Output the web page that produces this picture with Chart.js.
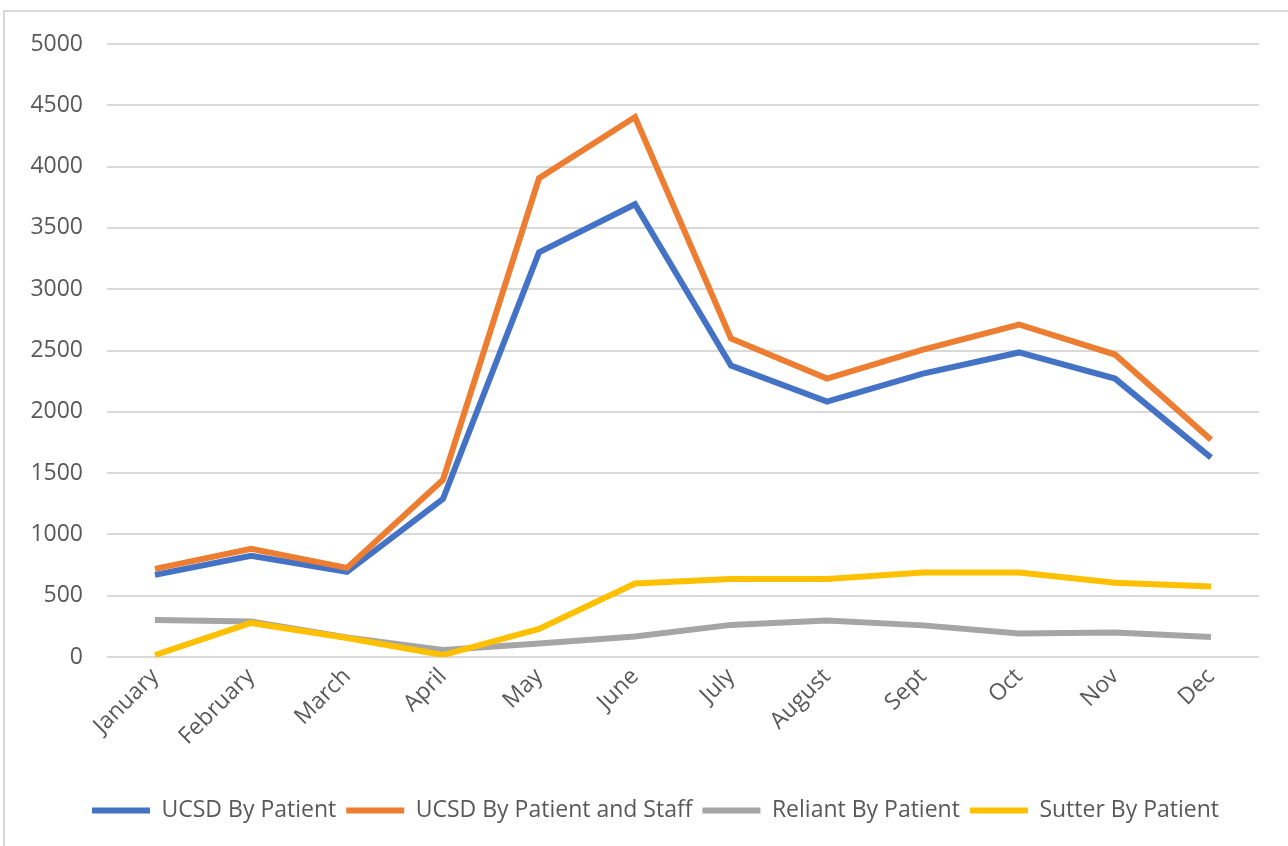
<!DOCTYPE html>
<html>
<head>
<meta charset="utf-8">
<script src="https://cdn.jsdelivr.net/npm/chart.js@4/dist/chart.umd.min.js"></script>
<style>
    html, body { margin: 0; padding: 0; background: #fff; }
    #frame { position: absolute; left: 3px; top: 10px; width: 1300px; height: 900px; border: 2px solid #d9d9d9; box-sizing: border-box; }
    #wrap { position: absolute; left: 0; top: 0; width: 1288px; height: 846px; }
</style>
</head>
<body>
<div id="frame"></div>
<div id="wrap"><canvas id="myLineChart"></canvas></div>
<script>
// months on the x axis
const months = ['January', 'February', 'March', 'April', 'May', 'June', 'July', 'August', 'Sept', 'Oct', 'Nov', 'Dec'];

// values
const ucsdPatient = [670, 825, 695, 1290, 3300, 3693, 2378, 2083, 2312, 2484, 2271, 1626];
const ucsdPatientStaff = [719, 882, 727, 1446, 3905, 4404, 2598, 2271, 2508, 2712, 2467, 1773];
const reliantPatient = [302, 290, 160, 57, 110, 168, 262, 298, 258, 192, 200, 163];
const sutterPatient = [16, 278, 155, 16, 229, 600, 637, 637, 690, 690, 605, 575];

const fontFam = '"Open Sans", "Noto Sans", sans-serif';

function serie(label, data, color, order) {
    return {
        label: label,
        data: data,
        borderColor: color,
        backgroundColor: color,
        borderWidth: 6,
        pointRadius: 0,
        tension: 0,
        order: order
    };
}

// the legend sits centred under the plot, not the whole canvas
const shiftLegend = {
    id: 'shiftLegend',
    afterLayout(chart) {
        chart.legend.left += 26;
        chart.legend.right += 26;
    }
};

const config = {
    type: 'line',
    data: {
        labels: months,
        datasets: [
            serie('UCSD By Patient', ucsdPatient, '#4472C4', 4),
            serie('UCSD By Patient and Staff', ucsdPatientStaff, '#ED7D31', 3),
            serie('Reliant By Patient', reliantPatient, '#A5A5A5', 2),
            serie('Sutter By Patient', sutterPatient, '#FFC000', 1)
        ]
    },
    options: {
        responsive: true,
        maintainAspectRatio: false,
        animation: false,
        layout: { padding: { left: 0, right: 29, top: 44, bottom: 14 } },
        plugins: {
            tooltip: { enabled: false },
            legend: {
                position: 'bottom',
                labels: {
                    usePointStyle: true,
                    pointStyle: 'line',
                    pointStyleWidth: 58,
                    padding: 10,
                    color: '#595959',
                    font: { family: fontFam, size: 23 },
                    sort: (a, b) => a.datasetIndex - b.datasetIndex
                }
            }
        },
        scales: {
            x: {
                offset: true,
                grid: { display: false, drawTicks: false },
                border: { display: false },
                ticks: {
                    color: '#595959',
                    font: { family: fontFam, size: 23 },
                    minRotation: 45,
                    maxRotation: 45,
                    padding: 6
                },
                afterFit: (axis) => { axis.height = 132; }
            },
            y: {
                min: 0,
                max: 5000,
                grid: { color: '#d9d9d9', lineWidth: 2, drawTicks: false },
                border: { display: false },
                ticks: {
                    stepSize: 500,
                    color: '#595959',
                    font: { family: fontFam, size: 23 },
                    padding: 24,
                    callback: (v) => String(v)
                },
                afterFit: (axis) => { axis.width = 107; }
            }
        }
    },
    plugins: [shiftLegend]
};

new Chart(document.getElementById('myLineChart'), config);
</script>
</body>
</html>
